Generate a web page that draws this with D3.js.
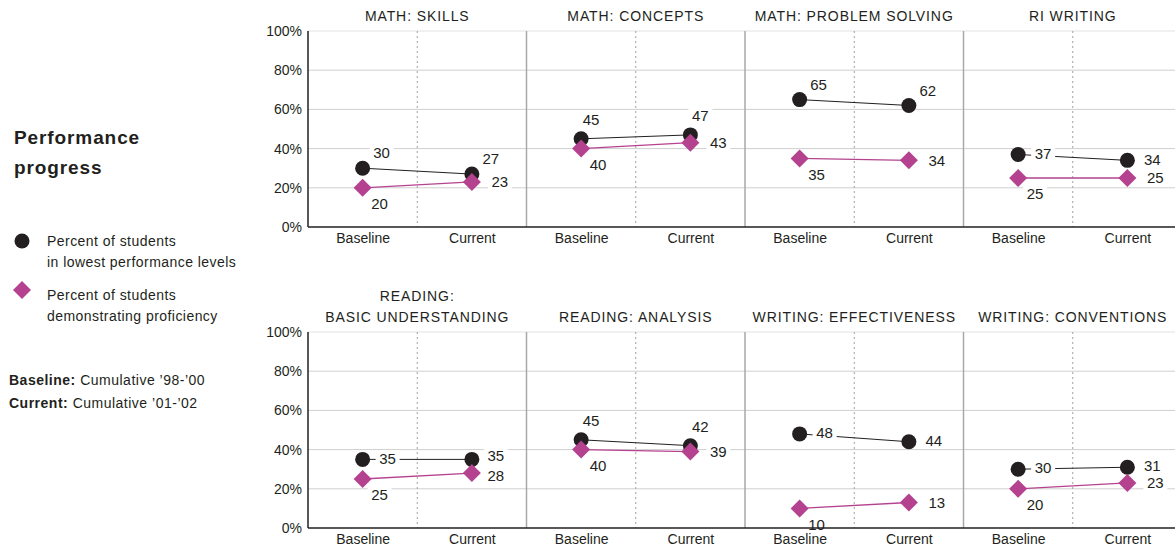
<!DOCTYPE html>
<html>
<head>
<meta charset="utf-8">
<script src="https://cdn.jsdelivr.net/npm/d3@7"></script>
<style>
  body { margin: 0; background: #fff; }
  svg { font-family: "Liberation Sans", Arial, sans-serif; fill: #231f20; }
</style>
</head>
<body>
<svg id="chart"></svg>
<script>
// Data
const panels = ['MATH: SKILLS', 'MATH: CONCEPTS', 'MATH: PROBLEM SOLVING', 'RI WRITING',
  'READING:|BASIC UNDERSTANDING', 'READING: ANALYSIS', 'WRITING: EFFECTIVENESS', 'WRITING: CONVENTIONS'];
const periods = ['Baseline', 'Current'];
const lowest = [[30, 27], [45, 47], [65, 62], [37, 34], [35, 35], [45, 42], [48, 44], [30, 31]];
const proficient = [[20, 23], [40, 43], [35, 34], [25, 25], [25, 28], [40, 39], [10, 13], [20, 23]];
const yTicks = [0, 20, 40, 60, 80, 100];

// where each value label sits next to its marker
const lowestPos = [['ar', 'ar'], ['a', 'a'], ['ar', 'ar'], ['r', 'r'], ['r', 'ru'], ['a', 'a'], ['r', 'r'], ['r', 'r']];
const profPos = [['br', 'rd'], ['br', 'rd'], ['br', 'rd'], ['br', 'rd'], ['br', 'rl'], ['br', 'rd'], ['br', 'rd'], ['br', 'rd']];
const offsets = { ar: [19, -15], a: [10, -19], r: [25, -1], ru: [24, -4], rl: [24, 3], rd: [28, 0], br: [17, 16] };

const width = 1175, height = 549;
const left = 308, pw = 218.5;
const rows = [{ top: 31, bottom: 227 }, { top: 332, bottom: 528 }];
const pink = '#b4428f', dark = '#231f20';

const svg = d3.select('#chart').attr('width', width).attr('height', height);

const x = d3.scalePoint().domain(periods).range([0, pw]).padding(0.5);

rows.forEach((row, ri) => {
  const y = d3.scaleLinear().domain([0, 100]).range([row.bottom, row.top]);
  const g = svg.append('g');

  // gridlines
  g.selectAll('.grid').data(yTicks.slice(1)).enter().append('line')
    .attr('x1', left).attr('x2', left + pw * 4)
    .attr('y1', d => y(d)).attr('y2', d => y(d))
    .attr('stroke', d => d === 100 ? '#e2e2e2' : '#cfcfcf').attr('stroke-width', 1);

  // y axis labels
  const yAxis = g.append('g').attr('transform', `translate(${left},0)`)
    .call(d3.axisLeft(y).tickValues(yTicks).tickFormat(d => d + '%').tickSize(0).tickPadding(6));
  yAxis.select('.domain').remove();
  yAxis.selectAll('text').attr('font-size', 14).attr('fill', dark).attr('font-family', null);

  for (let p = 0; p < 4; p++) {
    const idx = ri * 4 + p;
    const px = left + p * pw;
    const pg = g.append('g').attr('transform', `translate(${px},0)`);

    // centre dotted line
    pg.append('line').attr('x1', pw / 2).attr('x2', pw / 2)
      .attr('y1', row.top).attr('y2', row.bottom)
      .attr('stroke', '#a0a0a0').attr('stroke-dasharray', '2,3');
    // divider on the right
    pg.append('line').attr('x1', pw).attr('x2', pw)
      .attr('y1', row.top).attr('y2', row.bottom)
      .attr('stroke', '#a8a8a8').attr('stroke-width', 1.5);

    // x axis labels
    const xAxis = pg.append('g').attr('transform', `translate(0,${row.bottom})`)
      .call(d3.axisBottom(x).tickSize(0).tickPadding(6));
    xAxis.select('.domain').remove();
    xAxis.selectAll('text').attr('font-size', 14).attr('fill', dark).attr('font-family', null);

    // panel title
    const lines = panels[idx].split('|');
    lines.forEach((t, li) => {
      pg.append('text').attr('x', pw / 2)
        .attr('y', row.top - 10 - (lines.length - 1 - li) * 21)
        .attr('text-anchor', 'middle').attr('font-size', 14)
        .attr('letter-spacing', 0.9).attr('fill', dark).text(t);
    });

    const line = d3.line().x((d, i) => x(periods[i])).y(d => y(d));
    pg.append('path').datum(lowest[idx]).attr('d', line)
      .attr('fill', 'none').attr('stroke', dark).attr('stroke-width', 1);
    pg.append('path').datum(proficient[idx]).attr('d', line)
      .attr('fill', 'none').attr('stroke', pink).attr('stroke-width', 1.3);

    pg.selectAll('.dot').data(lowest[idx]).enter().append('circle')
      .attr('cx', (d, i) => x(periods[i])).attr('cy', d => y(d))
      .attr('r', 7.5).attr('fill', dark);
    pg.selectAll('.dia').data(proficient[idx]).enter().append('path')
      .attr('d', 'M0,-9L9,0L0,9L-9,0Z')
      .attr('transform', (d, i) => `translate(${x(periods[i])},${y(d)})`)
      .attr('fill', pink);

    // value labels with white boxes
    const labels = [];
    lowest[idx].forEach((v, i) => labels.push({ v, i, pos: lowestPos[idx][i] }));
    proficient[idx].forEach((v, i) => labels.push({ v, i, pos: profPos[idx][i] }));
    labels.forEach(l => {
      const o = offsets[l.pos];
      const cx = x(periods[l.i]) + o[0], cy = y(l.v) + o[1];
      pg.append('rect').attr('x', cx - 12).attr('y', cy - 8)
        .attr('width', 24).attr('height', 16).attr('fill', '#fff');
      pg.append('text').attr('x', cx).attr('y', cy).attr('dy', '0.35em')
        .attr('text-anchor', 'middle').attr('font-size', 15).attr('fill', dark)
        .text(l.v);
    });
  }

  // axis lines
  g.append('line').attr('x1', left).attr('x2', width)
    .attr('y1', row.bottom).attr('y2', row.bottom)
    .attr('stroke', dark).attr('stroke-width', 1.5);
  g.append('line').attr('x1', left).attr('x2', left)
    .attr('y1', row.top).attr('y2', row.bottom)
    .attr('stroke', dark).attr('stroke-width', 1.5);
});

// legend block
const leg = svg.append('g');
leg.append('text').attr('x', 14).attr('y', 144).attr('font-size', 19).attr('letter-spacing', 0.9)
  .attr('font-weight', 'bold').text('Performance');
leg.append('text').attr('x', 14).attr('y', 174).attr('font-size', 19).attr('letter-spacing', 0.9)
  .attr('font-weight', 'bold').text('progress');

const legLines = [
  ['Percent of students', 246], ['in lowest performance levels', 267],
  ['Percent of students', 300], ['demonstrating proficiency', 321]
];
leg.append('circle').attr('cx', 22).attr('cy', 241).attr('r', 7.5).attr('fill', dark);
leg.append('path').attr('d', 'M0,-9L9,0L0,9L-9,0Z').attr('transform', 'translate(22,290)').attr('fill', pink);
leg.selectAll('.lt').data(legLines).enter().append('text')
  .attr('x', 47).attr('y', d => d[1]).attr('font-size', 14).attr('letter-spacing', 0.45)
  .text(d => d[0]);

const b1 = leg.append('text').attr('x', 9).attr('y', 385).attr('font-size', 14).attr('letter-spacing', 0.5);
b1.append('tspan').attr('font-weight', 'bold').text('Baseline: ');
b1.append('tspan').text('Cumulative ’98-’00');
const b2 = leg.append('text').attr('x', 9).attr('y', 408).attr('font-size', 14).attr('letter-spacing', 0.5);
b2.append('tspan').attr('font-weight', 'bold').text('Current: ');
b2.append('tspan').text('Cumulative ’01-’02');
</script>
</body>
</html>
